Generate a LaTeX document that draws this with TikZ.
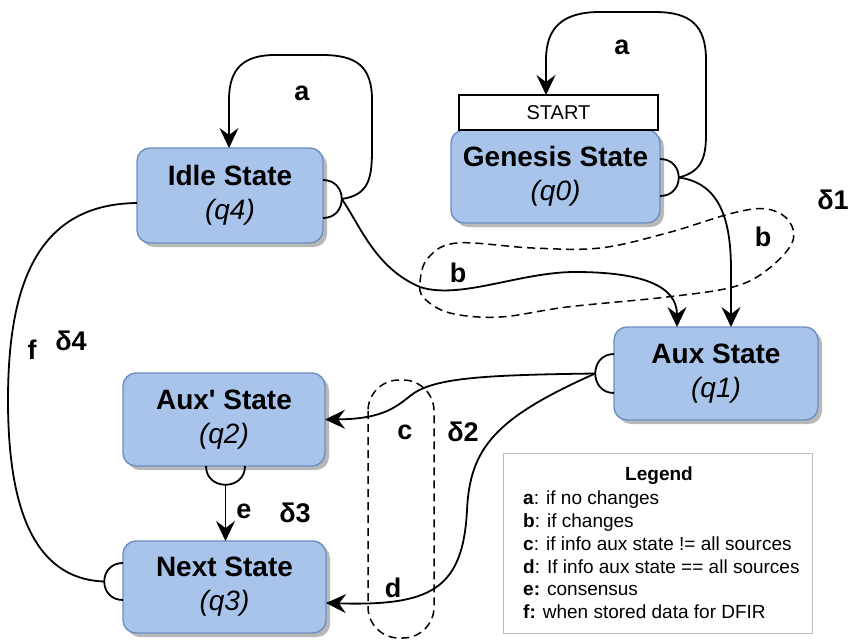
\documentclass[tikz,border=0pt]{standalone}
\usepackage{fontspec}
\setmainfont{Liberation Sans}
\usetikzlibrary{arrows.meta,calc,shadows}

\definecolor{statefill}{HTML}{A9C4EB}
\definecolor{stateline}{HTML}{6C8EBF}
\definecolor{shadowgray}{HTML}{B8B8B8}
\definecolor{legendline}{HTML}{BDBDBD}

\newcommand\statetext[2]{\textbf{#1}\\\textit{#2}}

\tikzset{
  state/.style={draw=stateline, fill=statefill, line width=1.4pt,
    rounded corners=13pt, inner sep=0pt, outer sep=0pt, align=center,
    font=\fontsize{28}{34}\selectfont,
    drop shadow={shadow xshift=4pt, shadow yshift=-4pt, fill=shadowgray, opacity=1}},
  startbox/.style={draw=black, fill=white, line width=1.6pt, inner sep=0pt,
    outer sep=0pt, font=\fontsize{20}{24}\selectfont},
  conn/.style={line width=1.8pt, draw=black},
  arr/.style={conn, -{Stealth[length=20pt,width=19pt,inset=7pt]}},
  blob/.style={line width=1.5pt, dash pattern=on 8pt off 5pt},
  lbl/.style={font=\bfseries\fontsize{27}{30}\selectfont, inner sep=0pt},
  legtext/.style={font=\fontsize{19}{23}\selectfont, anchor=base west, inner sep=0pt},
}

\begin{document}
\begin{tikzpicture}[x=1pt, y=-1pt]
\useasboundingbox (0,0) rectangle (849,641);

% states
\node[state, minimum width=186pt, minimum height=95pt] (idle) at (230,195.5) {\statetext{Idle State}{(q4)}};
\node[state, minimum width=209pt, minimum height=93pt] (gen) at (555.5,176.5) {\statetext{Genesis State}{(q0)}};
\node[startbox, minimum width=199pt, minimum height=35pt] (start) at (558.5,112.5) {START};
\node[state, minimum width=204pt, minimum height=93pt] (aux) at (716,373.5) {\statetext{Aux State}{(q1)}};
\node[state, minimum width=202pt, minimum height=93pt] (auxp) at (224,419.5) {\statetext{Aux\textquotesingle{} State}{(q2)}};
\node[state, minimum width=203pt, minimum height=92pt] (next) at (224.5,587) {\statetext{Next State}{(q3)}};

% half-circle connector origins
\draw[conn] ([yshift=15.5pt]idle.east) .. controls +(25,0) and +(25,0) .. ([yshift=-22.5pt]idle.east);
\coordinate (idleJ) at ([xshift=18.75pt,yshift=-3.5pt]idle.east);
\draw[conn] ([yshift=17.5pt]gen.east) .. controls +(25,0) and +(25,0) .. ([yshift=-19.5pt]gen.east);
\coordinate (genJ) at ([xshift=18.75pt,yshift=-1pt]gen.east);
\draw[conn] ([yshift=19.5pt]aux.west) .. controls +(-25,0) and +(-25,0) .. ([yshift=-19.5pt]aux.west);
\coordinate (auxJ) at ([xshift=-18.75pt]aux.west);
\draw[conn] ([xshift=-18pt]auxp.south) .. controls +(0,25) and +(0,25) .. ([xshift=21pt]auxp.south);
\coordinate (auxpJ) at ([xshift=1.5pt,yshift=-18.75pt]auxp.south);
\draw[conn] ([yshift=24pt]next.west) .. controls +(-25,0) and +(-25,0) .. ([yshift=-13pt]next.west);
\coordinate (nextJ) at ([xshift=-18.75pt,yshift=5.5pt]next.west);

% transitions
\draw[arr] (idleJ) .. controls (368,195) and (372,180) .. (372,150) -- (372,100)
  .. controls (372,66) and (356,55) .. (322,55) -- (275,55)
  .. controls (242,55) and (229,70) .. (229,100) -- ([xshift=-1pt]idle.north);
\draw[arr] (idleJ) .. controls (360,225) and (375,268) .. (420,287)
  .. controls (460,300) and (520,272) .. (575,272)
  .. controls (640,272) and (677,285) .. ([xshift=63pt]aux.north west);
\draw[arr] (genJ) .. controls (700,172) and (706,160) .. (706,135) -- (706,60)
  .. controls (706,25) and (690,12) .. (655,12) -- (600,12)
  .. controls (562,12) and (546,28) .. (546,60) -- ([xshift=-12.5pt]start.north);
\draw[arr] (genJ) .. controls (720,183) and (731,220) .. (731,270) -- ([xshift=117pt]aux.north west);
\draw[arr] (auxJ) .. controls (480,375) and (432,378) .. (410,396)
  .. controls (393,410) and (378,419) .. (auxp.east);
\draw[arr] (auxJ) .. controls (495,418) and (470,448) .. (467,510)
  .. controls (463,590) and (430,606) .. ([yshift=-16pt]next.east);
\draw[arr] (auxpJ) -- (auxpJ |- next.north);
\draw[conn] (nextJ) .. controls (30,579) and (8,500) .. (8,400)
  .. controls (8,280) and (40,204) .. ([yshift=-7.5pt]idle.west);

% transition groups
\draw[blob] plot[smooth cycle, tension=0.6] coordinates {
  (420,282) (428,258) (457,243) (533,248) (600,248) (667,233) (733,213)
  (767,209) (789,221) (792,243) (767,270) (733,287) (667,297) (567,307)
  (500,317) (450,313) (424,298)};
\draw[blob, rounded corners=31pt] (368,380) rectangle (434,638);

% labels
\node[lbl] (la1) at (302,93) {a};
\node[lbl] (lb1) at (458,273) {b};
\node[lbl] (la2) at (622,47) {a};
\node[lbl] (lb2) at (763,237) {b};
\node[lbl] (ld1) at (833,200) {δ1};
\node[lbl] (lc) at (405,432) {c};
\node[lbl] (ld2) at (463,432) {δ2};
\node[lbl] (ld) at (393,588) {d};
\node[lbl] (le) at (244,511) {e};
\node[lbl] (ld3) at (295,513) {δ3};
\node[lbl] (lf) at (32,350) {f};
\node[lbl] (ld4) at (71,341) {δ4};

% legend
\node[draw=legendline, line width=1pt, minimum width=309pt, minimum height=180pt, inner sep=0pt] (legend) at (657.5,543) {};
\node[font=\bfseries\fontsize{19}{23}\selectfont, anchor=base, inner sep=0pt] (legtitle) at (659,480) {Legend};
\node[legtext] (lga) at (523,504) {\textbf{a}: if no changes};
\node[legtext] (lgb) at (523,527) {\textbf{b}: if changes};
\node[legtext] (lgc) at (523,550) {\textbf{c}: if info aux state != all sources};
\node[legtext] (lgd) at (523,573) {\textbf{d}: If info aux state == all sources};
\node[legtext] (lge) at (523,595) {\textbf{e:} consensus};
\node[legtext] (lgf) at (523,618) {\textbf{f:} when stored data for DFIR};
\end{tikzpicture}
\end{document}
